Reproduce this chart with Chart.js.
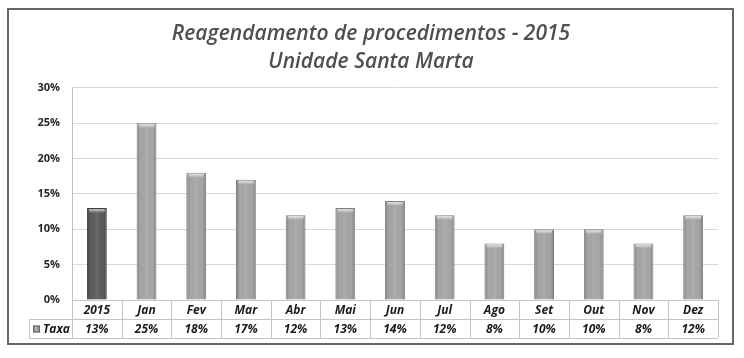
<!DOCTYPE html>
<html>
<head>
<meta charset="utf-8">
<script src="https://cdn.jsdelivr.net/npm/chart.js@4/dist/chart.umd.min.js"></script>
<style>
  html, body { margin: 0; padding: 0; background: #fff; }
  #wrap { width: 744px; height: 358px; }
</style>
</head>
<body>
<div id="wrap"><canvas id="chart" width="744" height="358"></canvas></div>
<script>
// --- Data ---
const titleLines = ["Reagendamento de procedimentos - 2015", "Unidade Santa Marta"];
const categories = ["2015", "Jan", "Fev", "Mar", "Abr", "Mai", "Jun", "Jul", "Ago", "Set", "Out", "Nov", "Dez"];
const taxaValues = [13, 25, 18, 17, 12, 13, 14, 12, 8, 10, 10, 8, 12];
const seriesLabel = "Taxa";
const yMax = 30;
const yStep = 5;

// --- Colors ---
const DARK_BAR = "#5c5c5c";
const LIGHT_BAR = "#a6a6a6";
const barColors = categories.map((c, i) => (i === 0 ? DARK_BAR : LIGHT_BAR));
const barBorders = categories.map((c, i) => (i === 0 ? "#3c3c3c" : "#7f7f7f"));

const TABLE_FONT = "italic bold 12px 'Open Sans', sans-serif";

// --- Outer frame + white background ---
const framePlugin = {
  id: "frame",
  beforeDraw(chart) {
    const ctx = chart.ctx;
    ctx.save();
    ctx.fillStyle = "#fff";
    ctx.fillRect(0, 0, chart.width, chart.height);
    ctx.restore();
  },
  afterDraw(chart) {
    const ctx = chart.ctx;
    ctx.save();
    ctx.strokeStyle = "#666";
    ctx.lineWidth = 2;
    ctx.strokeRect(8, 9, 725, 335);
    ctx.restore();
  },
};

// --- Bevel look on the bars ---
const bevelPlugin = {
  id: "bevel",
  afterDatasetsDraw(chart) {
    const ctx = chart.ctx;
    const meta = chart.getDatasetMeta(0);
    ctx.save();
    meta.data.forEach((bar) => {
      const w = bar.width;
      const left = bar.x - w / 2;
      const top = bar.y;
      const h = bar.base - bar.y;
      // side shading
      const g = ctx.createLinearGradient(left, 0, left + w, 0);
      g.addColorStop(0, "rgba(0,0,0,0.22)");
      g.addColorStop(0.2, "rgba(0,0,0,0)");
      g.addColorStop(0.5, "rgba(255,255,255,0.08)");
      g.addColorStop(0.8, "rgba(0,0,0,0)");
      g.addColorStop(1, "rgba(0,0,0,0.22)");
      ctx.fillStyle = g;
      ctx.fillRect(left + 1, top + 1, w - 2, h - 1);
      // top cap highlight
      const t = ctx.createLinearGradient(0, top, 0, top + 5);
      t.addColorStop(0, "rgba(255,255,255,0.85)");
      t.addColorStop(1, "rgba(255,255,255,0)");
      ctx.fillStyle = t;
      ctx.fillRect(left + 2, top + 1, w - 4, 4);
    });
    ctx.restore();
  },
};

// --- Data table under the axis ---
const tablePlugin = {
  id: "dataTable",
  afterDraw(chart) {
    const ctx = chart.ctx;
    const xs = chart.scales.x;
    const area = chart.chartArea;
    const rowH = 19;
    const legendLeft = 29;
    const y0 = area.bottom;
    const y1 = y0 + rowH;
    const y2 = y1 + rowH;
    const n = categories.length;

    // column boundaries from the scale
    const bounds = [area.left];
    for (let i = 1; i < n; i++) {
      bounds.push((xs.getPixelForTick(i - 1) + xs.getPixelForTick(i)) / 2);
    }
    bounds.push(area.right);

    ctx.save();
    ctx.strokeStyle = "#c4c4c4";
    ctx.lineWidth = 1;
    ctx.beginPath();
    ctx.moveTo(area.left, y0 + 0.5);
    ctx.lineTo(area.right, y0 + 0.5);
    ctx.moveTo(legendLeft, y1 + 0.5);
    ctx.lineTo(area.right, y1 + 0.5);
    ctx.moveTo(legendLeft, y2 + 0.5);
    ctx.lineTo(area.right, y2 + 0.5);
    bounds.forEach((b) => {
      const bx = Math.round(b) + 0.5;
      ctx.moveTo(bx, y0);
      ctx.lineTo(bx, y2);
    });
    ctx.moveTo(legendLeft + 0.5, y1);
    ctx.lineTo(legendLeft + 0.5, y2);
    ctx.stroke();

    // texts
    ctx.fillStyle = "#1a1a1a";
    ctx.font = TABLE_FONT;
    ctx.textAlign = "center";
    ctx.textBaseline = "middle";
    categories.forEach((c, i) => {
      const cx = xs.getPixelForTick(i);
      ctx.fillText(c, cx, y0 + rowH / 2 + 1);
      ctx.fillText(taxaValues[i] + "%", cx, y1 + rowH / 2 + 1);
    });

    // legend key
    const kx = legendLeft + 4;
    const ky = y1 + rowH / 2 - 3;
    const kg = ctx.createLinearGradient(kx, 0, kx + 7, 0);
    kg.addColorStop(0, "#7a7a7a");
    kg.addColorStop(0.5, "#b0b0b0");
    kg.addColorStop(1, "#7a7a7a");
    ctx.fillStyle = kg;
    ctx.fillRect(kx, ky, 7, 7);
    ctx.strokeStyle = "#6a6a6a";
    ctx.strokeRect(kx + 0.5, ky + 0.5, 6, 6);
    ctx.fillStyle = "#1a1a1a";
    ctx.textAlign = "left";
    ctx.fillText(seriesLabel, kx + 10, y1 + rowH / 2 + 1);
    ctx.restore();
  },
};

const ctx = document.getElementById("chart").getContext("2d");
new Chart(ctx, {
  type: "bar",
  data: {
    labels: categories,
    datasets: [
      {
        label: seriesLabel,
        data: taxaValues,
        backgroundColor: barColors,
        borderColor: barBorders,
        borderWidth: 1,
        borderSkipped: "bottom",
        categoryPercentage: 1,
        barPercentage: 0.4,
      },
    ],
  },
  options: {
    responsive: false,
    animation: false,
    layout: { padding: { left: 24, right: 26, top: 4, bottom: 58 } },
    plugins: {
      legend: { display: false },
      tooltip: { enabled: false },
      title: {
        display: true,
        text: titleLines,
        color: "#4f4f4f",
        font: { family: "'Open Sans', sans-serif", size: 21, style: "italic", weight: "600", lineHeight: 1.33 },
        padding: { top: 16, bottom: 12 },
      },
    },
    scales: {
      x: {
        grid: { display: false },
        border: { display: false },
        ticks: { display: false },
        afterFit(scale) {
          scale.height = 0;
        },
      },
      y: {
        min: 0,
        max: yMax,
        ticks: {
          stepSize: yStep,
          padding: 12,
          color: "#262626",
          font: { family: "'Open Sans', sans-serif", size: 11, weight: "bold" },
          callback: (v) => v + "%",
        },
        grid: { color: "#d9d9d9", drawTicks: false },
        border: { color: "#bfbfbf" },
        afterFit(scale) {
          scale.width = 48;
        },
      },
    },
  },
  plugins: [framePlugin, bevelPlugin, tablePlugin],
});
</script>
</body>
</html>
